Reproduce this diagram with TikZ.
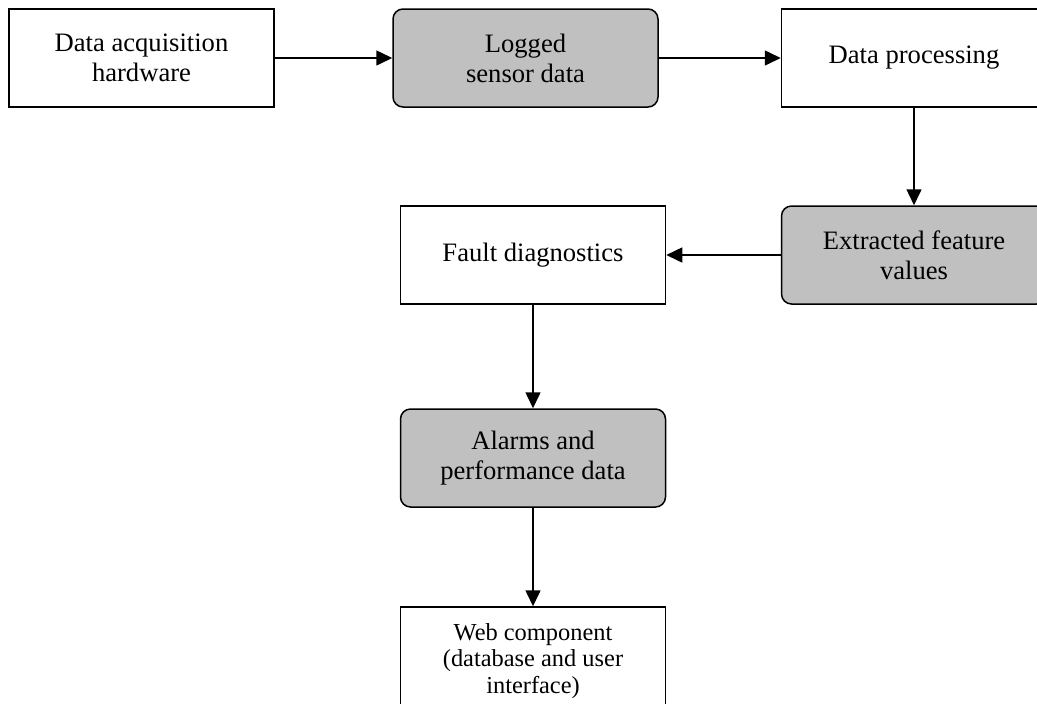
\documentclass[tikz,border=0pt]{standalone}
\usepackage{fontspec}
\setmainfont{Liberation Serif}
\usetikzlibrary{arrows.meta}
\definecolor{boxgray}{HTML}{C0C0C0}
\begin{document}
\begin{tikzpicture}[x=0.5pt,y=-0.5pt,
    stage/.style={draw=black,line width=0.75pt,fill=white,minimum width=132.5pt,minimum height=49pt,
        align=center,font=\fontsize{13.3}{15}\selectfont},
    datastore/.style={stage,fill=boxgray,rounded corners=5pt},
    flow/.style={line width=0.75pt,-{Triangle[length=8pt,width=7.5pt]}}]

\useasboundingbox (0,0) rectangle (1037,703);

% top row
\node[stage] (acq) at (141.5,58) {Data acquisition\\hardware};
\node[datastore] (logged) at (525.5,58) {Logged\\sensor data};
\node[stage] (proc) at (914,58) {Data processing};

% middle row
\node[datastore] (feat) at (914,255) {Extracted feature\\values};
\node[stage] (diag) at (533,255) {Fault diagnostics};

% lower column
\node[datastore] (alarm) at (533,458) {Alarms and\\performance data};
\node[stage,minimum height=54pt,font=\fontsize{12.2}{13.3}\selectfont] (web) at (533,661) {Web component\\(database and user\\interface)};

\draw[flow] (acq) -- (logged);
\draw[flow] (logged) -- (proc);
\draw[flow] (proc) -- (feat);
\draw[flow] (feat) -- (diag);
\draw[flow] (diag) -- (alarm);
\draw[flow] (alarm) -- (web);
\end{tikzpicture}
\end{document}
